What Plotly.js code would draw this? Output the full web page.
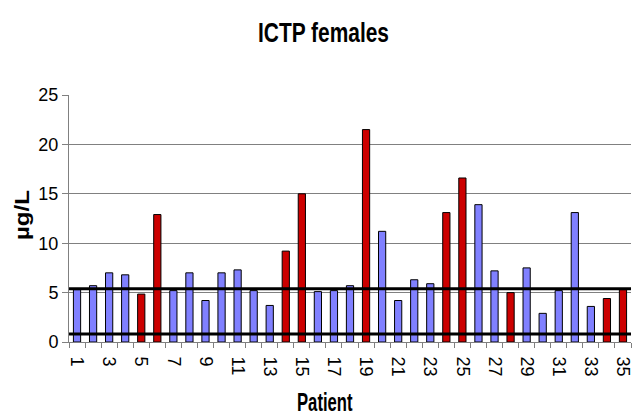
<!DOCTYPE html>
<html><head><meta charset="utf-8">
<script src="https://cdn.plot.ly/plotly-3.0.1.min.js"></script>
<style>body{margin:0;background:#fff}#chart{width:634px;height:417px}</style>
</head><body><div id="chart"></div>
<script>
const patients = Array.from({length:35},(_,i)=>String(i+1));
const values = [5.3,5.7,7.0,6.8,4.85,12.9,5.2,7.0,4.2,7.0,7.3,5.2,3.7,9.2,15.0,5.1,5.2,5.7,21.5,11.2,4.2,6.3,5.9,13.1,16.6,13.9,7.2,5.0,7.5,2.9,5.2,13.1,3.6,4.4,5.3];
const highPatients = ["5","6","14","15","19","24","25","28","34","35"];
const refLines = [5.4, 0.8];
const tickLabels = patients.map((p,i)=> i%2===0 ? p : "");

const colors = patients.map(p => highPatients.includes(p) ? "#CC0000" : "#8080FF");

const trace = {
  type:"bar", x:patients, y:values,
  marker:{color:colors, line:{color:"#000", width:1}},
  width:0.45, hoverinfo:"x+y"
};

const shapes = refLines.map(v=>({
  type:"line", xref:"paper", yref:"y", x0:0, x1:1, y0:v, y1:v,
  line:{color:"#000", width:3}, layer:"above"
}));

const sans = "Liberation Sans, Arial, sans-serif";
const layout = {
  width:634, height:417,
  margin:{l:69, r:3, t:95, b:75},
  paper_bgcolor:"#fff", plot_bgcolor:"#fff",
  showlegend:false,
  title:{text:"<b>ICTP females</b>", x:0.5, xanchor:"center", y:0.93, yanchor:"middle",
         font:{family:sans, size:27, color:"#000"}},
  xaxis:{type:"category", tickvals:patients, ticktext:tickLabels, tickangle:90,
         tickson:"boundaries", ticks:"outside", ticklen:5, tickcolor:"#808080",
         ticklabelstandoff:10,
         showline:true, linecolor:"#808080", linewidth:1, showgrid:false,
         tickfont:{family:sans, size:18, color:"#000"},
         title:{text:"<b>Patient</b>", standoff:14,
                font:{family:sans, size:25, color:"#000"}},
         range:[-0.5,34.5]},
  yaxis:{range:[0,25], dtick:5, ticks:"outside", ticklen:6, tickcolor:"#808080",
         showline:true, linecolor:"#808080", linewidth:1,
         showgrid:true, gridcolor:"#808080", gridwidth:1, zeroline:false,
         tickfont:{family:sans, size:18, color:"#000"},
         title:{text:"<b>µg/L</b>", standoff:14,
                font:{family:sans, size:21, color:"#000"}}},
  shapes:shapes,
  bargap:0.5
};

// condense bold titles (narrow typeface in the original) while keeping them as text
function fitFlat(el, cx, baseY, w){
  if(!el) return;
  el.removeAttribute('transform');
  const bb = el.getBBox();
  const s = w / bb.width;
  const bcx = bb.x + bb.width/2, y = +el.getAttribute('y');
  el.setAttribute('transform', `translate(${cx},${baseY}) scale(${s},1) translate(${-bcx},${-y})`);
}
function fitRot(el, baseX, cy, w){
  if(!el) return;
  el.removeAttribute('transform');
  const bb = el.getBBox();
  const s = w / bb.width;
  const bcx = bb.x + bb.width/2, y = +el.getAttribute('y');
  el.setAttribute('transform', `translate(${baseX},${cy}) rotate(-90) scale(${s},1) translate(${-bcx},${-y})`);
}

Plotly.newPlot("chart",[trace],layout,{displayModeBar:false, staticPlot:true}).then(gd=>{
  fitFlat(gd.querySelector('.gtitle'), 323.5, 33, 131);
  fitFlat(gd.querySelector('.xtitle'), 325, 411, 56);
  fitRot(gd.querySelector('.ytitle'), 28, 215, 50);
});
</script></body></html>
